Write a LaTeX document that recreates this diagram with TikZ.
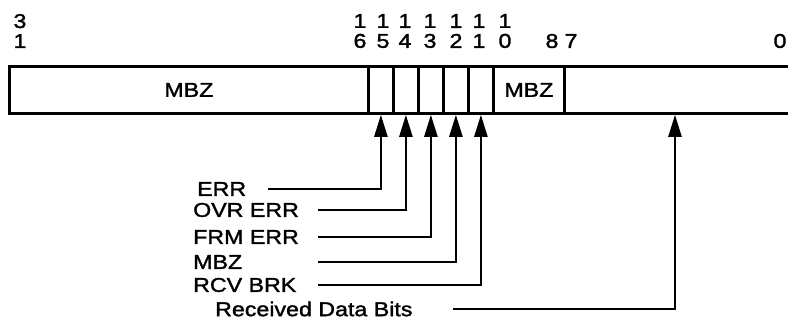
\documentclass[tikz,border=0pt]{standalone}
\usepackage{fontspec}
\setmainfont{Liberation Sans}[FakeStretch=1.16,FakeBold=1.6]
\usetikzlibrary{arrows.meta}

\begin{document}
\begin{tikzpicture}[x=1pt,y=-1pt,
  font=\fontsize{20}{20}\selectfont,
  cell/.style={draw,line width=2.8pt,minimum height=47pt,inner sep=0pt,anchor=north west},
  bitno/.style={inner sep=0pt,align=center},
  label/.style={inner sep=0pt,anchor=west},
  lead/.style={line width=2.4pt,-{Triangle[length=22pt,width=13pt]}}]
  \useasboundingbox (0,0) rectangle (788,320);

  % Bit numbers
  \node[bitno] (n31) at (20,31) {3\\1};
  \node[bitno] (n16) at (360,31) {1\\6};
  \node[bitno] (n15) at (383,31) {1\\5};
  \node[bitno] (n14) at (405,31) {1\\4};
  \node[bitno] (n13) at (430,31) {1\\3};
  \node[bitno] (n12) at (456,31) {1\\2};
  \node[bitno] (n11) at (479,31) {1\\1};
  \node[bitno] (n10) at (505,31) {1\\0};
  \node[bitno] (n8) at (552,41) {8};
  \node[bitno] (n7) at (571,41) {7};
  \node[bitno] (n0) at (780,41) {0};

  % Register
  \node[cell,minimum width=359pt] (mbzhi) at (8,65) {MBZ};
  \node[cell,minimum width=25pt] (b15) at (367,65) {};
  \node[cell,minimum width=25pt] (b14) at (392,65) {};
  \node[cell,minimum width=25pt] (b13) at (417,65) {};
  \node[cell,minimum width=25pt] (b12) at (442,65) {};
  \node[cell,minimum width=25pt] (b11) at (467,65) {};
  \node[cell,minimum width=71pt] (mbzlo) at (492,65) {MBZ};
  \node[cell,minimum width=240pt] (data) at (563,65) {};

  % Field names
  \node[label] (err) at (197,189) {ERR};
  \node[label] (ovr) at (193,210) {OVR ERR};
  \node[label] (frm) at (193,237) {FRM ERR};
  \node[label] (mbz) at (193,262) {MBZ};
  \node[label] (rcv) at (193,285) {RCV BRK};
  \node[label] (rdb) at (215,309) {Received Data Bits};

  % Leaders
  \draw[lead] (268,0 |- err.east) -| (b15.south);
  \draw[lead] (318,0 |- ovr.east) -| (b14.south);
  \draw[lead] (318,0 |- frm.east) -| (b13.south);
  \draw[lead] (318,0 |- mbz.east) -| (b12.south);
  \draw[lead] (318,0 |- rcv.east) -| (b11.south);
  \draw[lead] (453,0 |- rdb.east) -| (data.south -| 675,0);
\end{tikzpicture}
\end{document}
